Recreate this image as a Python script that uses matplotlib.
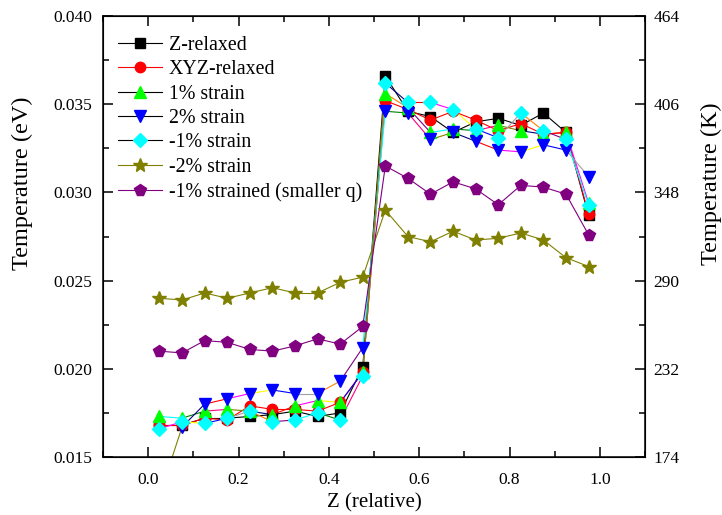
import matplotlib.pyplot as plt
from matplotlib.collections import LineCollection
from matplotlib.lines import Line2D
from matplotlib.ticker import MultipleLocator, FuncFormatter

plt.rcParams['font.family'] = ['Liberation Serif', 'DejaVu Serif']

# Z positions (relative) of the 20 bins
z = [0.025, 0.075, 0.125, 0.175, 0.225, 0.275, 0.325, 0.375, 0.425, 0.475,
     0.525, 0.575, 0.625, 0.675, 0.725, 0.775, 0.825, 0.875, 0.925, 0.975]

# temperature in eV
z_relaxed = [0.0168, 0.0168, 0.0172, 0.0172, 0.0173, 0.0174, 0.0176, 0.0173, 0.0175, 0.0201,
             0.0366, 0.0346, 0.0343, 0.0334, 0.0340, 0.0342, 0.0338, 0.0345, 0.0334, 0.0287]
xyz_relaxed = [0.0168, 0.0168, 0.0172, 0.0171, 0.0179, 0.0177, 0.0177, 0.0176, 0.0181, 0.0198,
               0.0352, 0.0347, 0.0341, 0.0346, 0.0341, 0.0335, 0.0339, 0.0333, 0.0334, 0.0288]
strain_p1 = [0.0173, 0.0172, 0.0176, 0.0177, 0.0176, 0.0174, 0.0179, 0.0182, 0.0181, 0.0198,
             0.0356, 0.0348, 0.0334, 0.0336, 0.0335, 0.0338, 0.0335, 0.0333, 0.0334, 0.0294]
strain_p2 = [0.0128, 0.0167, 0.0180, 0.0183, 0.0186, 0.0188, 0.0186, 0.0186, 0.0193, 0.0212,
             0.0346, 0.0345, 0.0330, 0.0334, 0.0329, 0.0324, 0.0323, 0.0327, 0.0324, 0.0309]
strain_m1 = [0.0166, 0.0170, 0.0169, 0.0172, 0.0176, 0.0170, 0.0171, 0.0175, 0.0171, 0.0196,
             0.0362, 0.0351, 0.0351, 0.0347, 0.0336, 0.0331, 0.0345, 0.0335, 0.0330, 0.0293]
strain_m2 = [0.0240, 0.0239, 0.0243, 0.0240, 0.0243, 0.0246, 0.0243, 0.0243, 0.0249, 0.0252,
             0.0290, 0.0275, 0.0272, 0.0278, 0.0273, 0.0274, 0.0277, 0.0273, 0.0263, 0.0258]
smaller_q = [0.0210, 0.0209, 0.0216, 0.0215, 0.0211, 0.0210, 0.0213, 0.0217, 0.0214, 0.0224,
             0.0315, 0.0308, 0.0299, 0.0306, 0.0302, 0.0293, 0.0304, 0.0303, 0.0299, 0.0276]

labels = ['Z-relaxed', 'XYZ-relaxed', '1% strain', '2% strain', '-1% strain',
          '-2% strain', '-1% strained (smaller q)']

EV_TO_K = 11604.5

series = [z_relaxed, xyz_relaxed, strain_p1, strain_p2, strain_m1, strain_m2, smaller_q]
markers = ['s', 'o', '^', 'v', 'D', '*', 'p']
msizes = [7, 7.5, 8, 8, 7, 10, 8.5]
mcolors = ['#000000', '#ff0000', '#00ff00', '#0000ff', '#00ffff', '#808000', '#800080']
lcolors = ['#000000', '#ff0000', '#000000', '#000000', '#000000', '#808000', '#800080']

# Origin-like per-segment colours for the multi-coloured lines
seg_palette = ['#ff00ff', '#ffff00', '#0000ff', '#a0a0a0', '#ff8000', '#800080',
               '#00ffff', '#008000', '#ff0080', '#808000', '#000080', '#ff0000']
multicolor = [False, False, True, True, True, False, False]

fig = plt.figure(figsize=(7.22, 5.15), dpi=100)
ax = fig.add_axes([0.1427, 0.1126, 0.7507, 0.8563])

for i, y in enumerate(series):
    segs = [[(z[k], y[k]), (z[k + 1], y[k + 1])] for k in range(len(z) - 1)]
    if multicolor[i]:
        cols = [seg_palette[(k + 3 * i) % len(seg_palette)] for k in range(len(segs))]
    else:
        cols = lcolors[i]
    ax.add_collection(LineCollection(segs, colors=cols, linewidths=0.8, zorder=2 + i * 0.01))
for i, y in enumerate(series):
    ax.plot(z, y, ls='none', marker=markers[i], ms=msizes[i], color=mcolors[i],
            mec=mcolors[i], zorder=3 + i * 0.01)

handles = [Line2D([], [], color=lcolors[i], lw=0.8, marker=markers[i], ms=msizes[i],
                  mfc=mcolors[i], mec=mcolors[i]) for i in range(len(series))]
ax.legend(handles, labels, loc='upper left', bbox_to_anchor=(-0.003, 0.993), frameon=False,
          fontsize=14.3, handlelength=2.2, handletextpad=0.35, labelspacing=0.27,
          borderaxespad=0.45)

ax.set_xlim(-0.1, 1.1)
ax.set_ylim(0.015, 0.040)
ax.xaxis.set_major_locator(MultipleLocator(0.2))
ax.xaxis.set_minor_locator(MultipleLocator(0.1))
ax.yaxis.set_major_locator(MultipleLocator(0.005))
ax.yaxis.set_minor_locator(MultipleLocator(0.0025))
ax.xaxis.set_major_formatter(FuncFormatter(lambda v, p: f'{v:.1f}'))
ax.yaxis.set_major_formatter(FuncFormatter(lambda v, p: f'{v:.3f}'))
ax.tick_params(which='both', direction='in', top=True, labelsize=12.5, width=1.1)
ax.tick_params(which='major', length=7)
ax.tick_params(which='minor', length=4.5)
ax.tick_params(axis='y', which='major', pad=8)
ax.tick_params(axis='x', which='major', pad=11)
for s in ax.spines.values():
    s.set_linewidth(1.1)

ax.set_xlabel('Z (relative)', fontsize=15)
ax.xaxis.set_label_coords(0.5, -0.082)
ax.set_ylabel('Temperature (eV)', fontsize=17.5)
ax.yaxis.set_label_coords(-0.13, 0.62)

ax2 = ax.twinx()
ax2.set_ylim(ax.get_ylim())
ax2.yaxis.set_major_locator(MultipleLocator(0.005))
ax2.yaxis.set_minor_locator(MultipleLocator(0.0025))
ax2.yaxis.set_major_formatter(FuncFormatter(lambda v, p: f'{v * EV_TO_K:.0f}'))
ax2.tick_params(which='both', direction='in', labelsize=12.5, width=1.1)
ax2.tick_params(which='major', length=7, pad=6)
ax2.tick_params(which='minor', length=4.5)
ax2.set_ylabel('Temperature (K)', fontsize=17.5)
ax2.yaxis.set_label_coords(1.103, 0.62)

fig.savefig('out.png', dpi=100)
